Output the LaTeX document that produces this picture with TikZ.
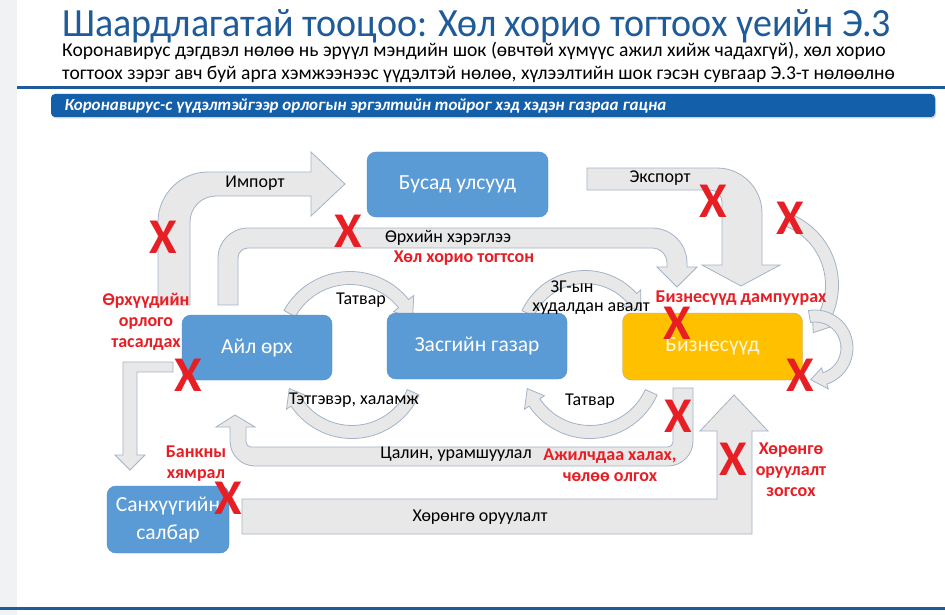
\documentclass[tikz,border=0pt]{standalone}
\usepackage{fontspec}
\setmainfont{Carlito}
\newfontfamily\headfont[FakeStretch=0.95]{Carlito}
\usetikzlibrary{calc,shadows}

\definecolor{titleblue}{HTML}{1F5B98}
\definecolor{bannerblue}{HTML}{135FAA}
\definecolor{boxblue}{HTML}{5B9BD5}
\definecolor{boxedge}{HTML}{4F8CC9}
\definecolor{bizyellow}{HTML}{FFC000}
\definecolor{bizedge}{HTML}{B9A872}
\definecolor{flowgray}{HTML}{E8E8E9}
\definecolor{flowedge}{HTML}{A3B3C6}
\definecolor{alert}{HTML}{E81E25}
\definecolor{sidegray}{HTML}{F1F2F4}

% curved block arrow: centre x, centre y, radius, from, to, half width, head half width
\newcommand{\arcarrow}[7]{\draw[flow] ($(#1,#2)+({#4}:{#3+#6})$) arc[start angle=#4, end angle=#5, radius={#3+#6}]
  -- ($(#1,#2)+({#5}:{#3+#7})$) -- ($(#1,#2)+({#5+75*#7/#3}:{#3})$) -- ($(#1,#2)+({#5}:{#3-#7})$)
  -- ($(#1,#2)+({#5}:{#3-#6})$) arc[start angle=#5, end angle=#4, radius={#3-#6}] -- cycle;}

\tikzset{
  box/.style={rectangle, rounded corners=9pt, fill=boxblue, draw=boxedge, text=white,
    font=\fontsize{21.5}{26}\selectfont, align=center},
  flow/.style={fill=flowgray, draw=flowedge, line width=0.8pt},
  lbl/.style={font=\fontsize{18}{21}\selectfont, text=black, inner sep=1pt},
  warn/.style={font=\bfseries\fontsize{18}{21}\selectfont, text=alert, align=center, inner sep=1pt},
  cross/.style={font=\bfseries\fontsize{50}{50}\selectfont, text=alert, inner sep=0pt},
}

\begin{document}
\begin{tikzpicture}[x=1pt, y=-1pt]
  \useasboundingbox (0,0) rectangle (945,615);
  \fill[white] (0,0) rectangle (945,615);
  \fill[sidegray] (0,0) rectangle (17,615);

  %% heading
  \node[anchor=base west, inner sep=0pt, text=titleblue, font=\headfont\fontsize{40}{40}\selectfont] (title) at (62,37)
    {Шаардлагатай тооцоо: Хөл хорио тогтоох үеийн Э.3};
  \node[anchor=base west, inner sep=0pt, font=\fontsize{19.6}{24}\selectfont] (sub1) at (62,57)
    {Коронавирус дэгдвэл нөлөө нь эрүүл мэндийн шок (өвчтөй хүмүүс ажил хийж чадахгүй), хөл хорио};
  \node[anchor=base west, inner sep=0pt, font=\fontsize{19.6}{24}\selectfont] (sub2) at (62,80)
    {тогтоох зэрэг авч буй арга хэмжээнээс үүдэлтэй нөлөө, хүлээлтийн шок гэсэн сувгаар Э.3-т нөлөөлнө};
  \draw[titleblue, line width=3pt] (17,88) -- (945,88);
  \fill[bannerblue, rounded corners=4pt, drop shadow={shadow xshift=1pt, shadow yshift=-1.5pt, opacity=0.35}]
    (51,94) rectangle (935,117);
  \node[anchor=west, text=white, font=\bfseries\itshape\fontsize{17}{20}\selectfont] (banner) at (61,106)
    {Коронавирус-с үүдэлтэйгээр орлогын эргэлтийн тойрог хэд хэдэн газраа гацна};

  %% block arrows
  % import
  \draw[flow] (158,305) -- (158,222) arc[start angle=180, end angle=270, radius=50] -- (311,172) -- (311,152)
    -- (345,184) -- (311,216) -- (311,196) -- (216,196) arc[start angle=270, end angle=180, radius=26]
    -- (190,305) -- cycle;
  % household consumption
  \draw[flow] (218,305) -- (218,258) arc[start angle=180, end angle=270, radius=30] -- (652,228)
    arc[start angle=270, end angle=360, radius=35] -- (687,267) -- (697,267) -- (677,287) -- (657,267)
    -- (667,267) -- (667,263) arc[start angle=0, end angle=-90, radius=15] -- (248,248)
    arc[start angle=270, end angle=180, radius=10] -- (238,305) -- cycle;
  % export
  \draw[flow] (587,168) -- (717,168) arc[start angle=270, end angle=360, radius=45] -- (762,265) -- (780,265)
    -- (741,286) -- (702,265) -- (722,265) -- (722,202) arc[start angle=0, end angle=-90, radius=12]
    -- (587,190) -- cycle;
  % wages
  \draw[flow] (693,388) -- (693,441) arc[start angle=0, end angle=90, radius=25] -- (255,466)
    arc[start angle=90, end angle=180, radius=25] -- (230,427) -- (216,427) -- (235,415) -- (255,427)
    -- (246,427) -- (246,442) arc[start angle=180, end angle=90, radius=5] -- (668,447)
    arc[start angle=90, end angle=0, radius=5] -- (673,388) -- cycle;
  % investment
  \draw[flow] (242,499) -- (717,499) -- (717,431) -- (700,431) -- (734,395) -- (768,431) -- (752,431)
    -- (752,534) -- (242,534) -- cycle;
  % savings
  \draw[flow] (173,362) -- (123,362) -- (123,455) -- (115,455) -- (130,470) -- (145,455) -- (137,455)
    -- (137,372) -- (173,372) -- cycle;
  % curved ones
  \arcarrow{350}{347}{69}{209}{321}{6.5}{13}
  \arcarrow{585}{340}{63}{205}{318}{6.5}{12}
  \arcarrow{352}{365}{67}{24}{146}{6.5}{12}
  \arcarrow{590}{365}{67}{24}{146}{6.5}{12}
  \arcarrow{762}{285}{70}{-71}{30}{6.5}{12}
  \arcarrow{815}{348}{32}{-100}{72}{6}{11}

  %% sectors
  \node[box, minimum width=181pt, minimum height=65pt] (abroad) at (457.5,184.5) {Бусад улсууд};
  \node[box, minimum width=150pt, minimum height=65pt] (home) at (257,347.5) {Айл өрх};
  \node[box, minimum width=180pt, minimum height=66pt] (gov) at (477,346) {Засгийн газар};
  \node[box, fill=bizyellow, draw=bizedge, text=white!85!bizyellow, minimum width=180pt, minimum height=67pt]
    (biz) at (712.5,346.5) {Бизнесүүд};
  \node[box, minimum width=122pt, minimum height=67pt, font=\fontsize{21.5}{28}\selectfont] (fin) at (168,519.5)
    {Санхүүгийн\\салбар};

  %% flow labels
  \node[lbl] (limport) at (255,183) {Импорт};
  \node[lbl] (lconsume) at (448,238) {Өрхийн хэрэглээ};
  \node[lbl] (lexport) at (660,178) {Экспорт};
  \node[lbl] (ltax1) at (361,300) {Татвар};
  \node[lbl] (lbuy1) at (572,287) {ЗГ-ын};
  \node[lbl] (lbuy2) at (591,309) {худалдан авалт};
  \node[lbl] (lpension) at (354,400) {Тэтгэвэр, халамж};
  \node[lbl] (ltax2) at (590,401) {Татвар};
  \node[lbl] (lwage) at (456,454) {Цалин, урамшуулал};
  \node[lbl] (linvest) at (480,517) {Хөрөнгө оруулалт};

  %% shocks
  \node[warn] (wlock) at (464,258) {Хөл хорио тогтсон};
  \node[warn] (wbankrupt) at (741,298) {Бизнесүүд дампуурах};
  \node[warn] (wincome) at (146,322) {Өрхүүдийн\\орлого\\тасалдах};
  \node[warn] (wfire) at (610,465) {Ажилчдаа халах,\\чөлөө олгох};
  \node[warn] (wbank) at (196,464) {Банкны\\хямрал};
  \node[warn] (wstop) at (791,470) {Хөрөнгө\\оруулалт\\зогсох};

  \foreach \cx/\cy in {163/237, 348/231, 713/201, 790/218, 677/323, 800/375, 188/375, 678/416, 733/459, 228/498}
    \node[cross] at (\cx,\cy) {X};

  \draw[titleblue, line width=3pt] (0,608) -- (945,608);
\end{tikzpicture}
\end{document}
